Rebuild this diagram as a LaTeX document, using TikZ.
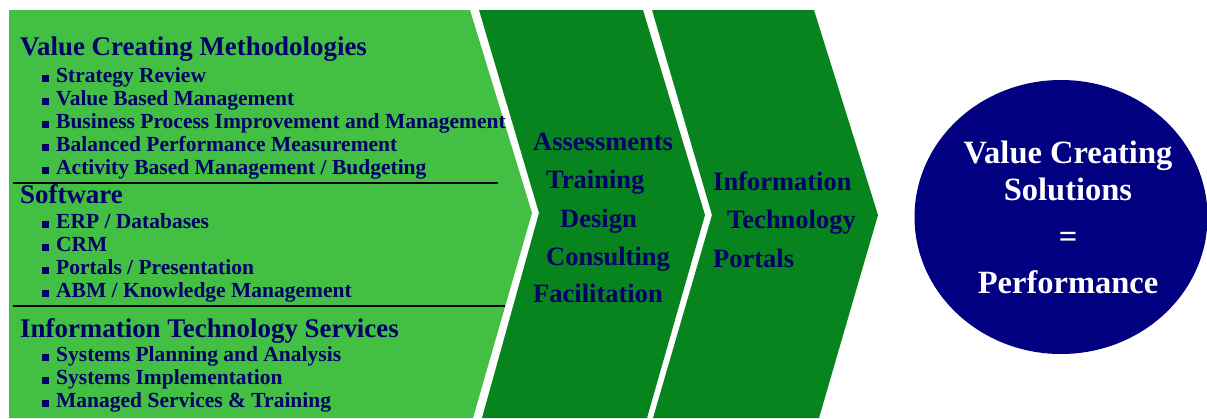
\documentclass[tikz,border=0pt]{standalone}
\usepackage{fontspec}
\setmainfont{Liberation Serif}
\usetikzlibrary{shapes,positioning}
\definecolor{lightgrn}{RGB}{67,191,67}
\definecolor{darkgrn}{RGB}{8,132,30}
\definecolor{navytxt}{RGB}{0,0,105}
\definecolor{navyfill}{RGB}{0,0,128}

\begin{document}
\begin{tikzpicture}[x=1pt,y=-1pt]
  \tikzstyle{head} = [anchor=base west,inner sep=0pt,text=navytxt,font=\fontsize{26.9}{30}\selectfont\bfseries]
  \tikzstyle{item} = [anchor=base west,inner sep=0pt,text=navytxt,font=\fontsize{21.5}{24}\selectfont\bfseries]
  \tikzstyle{chev} = [anchor=base west,inner sep=0pt,text=navytxt,font=\fontsize{26.5}{30}\selectfont\bfseries]
  \tikzstyle{goal} = [anchor=base,inner sep=0pt,text=white,font=\fontsize{32.5}{34}\selectfont\bfseries]
  \tikzstyle{sep} = [line width=2.5pt,black]
  \useasboundingbox (0,0) rectangle (1207,418);
  % arrow shapes
  \fill[lightgrn] (9,10) -- (470,10) -- (532,213) -- (473,418) -- (9,418) -- cycle;
  \fill[darkgrn] (479,10) -- (643,10) -- (705,215) -- (647,418) -- (482,418) -- (539,213) -- cycle;
  \fill[darkgrn] (652,10) -- (814,10) -- (878,215) -- (819,418) -- (653,418) -- (712,215) -- cycle;
  % services list
  \node (meth) [head] at (20,55) {Value Creating Methodologies};
  \foreach \txt [count=\i] in {Strategy Review,Value Based Management,
    Business Process Improvement and Management,Balanced Performance Measurement,
    Activity Based Management / Budgeting}
    \node (meth\i) [item] at (42,{59+23*\i}) {\rule{7pt}{7pt}\hspace{7pt}\txt};
  \coordinate (sepa) at (13,183);
  \coordinate (sepb) at (498,183);
  \draw [sep] (sepa) -- (sepb);
  \node (soft) [head] at (20,203) {Software};
  \foreach \txt [count=\i] in {ERP / Databases,CRM,Portals / Presentation,
    ABM / Knowledge Management}
    \node (soft\i) [item] at (42,{205+23*\i}) {\rule{7pt}{7pt}\hspace{7pt}\txt};
  \coordinate (sepc) at (13,306);
  \coordinate (sepd) at (505,306);
  \draw [sep] (sepc) -- (sepd);
  \node (its) [head] at (20,337) {Information Technology Services};
  \foreach \txt [count=\i] in {Systems Planning and Analysis,Systems Implementation,
    Managed Services \& Training}
    \node (its\i) [item] at (42,{338+23*\i}) {\rule{7pt}{7pt}\hspace{7pt}\txt};
  % delivery
  \node (assess) [chev] at (533,150) {Assessments};
  \node (train)  [chev] at (546,188) {Training};
  \node (design) [chev] at (560,227) {Design};
  \node (consul) [chev] at (546,265) {Consulting};
  \node (facil)  [chev] at (533,302) {Facilitation};
  \node (info) [chev] at (713,190) {Information};
  \node (tech) [chev] at (727,228) {Technology};
  \node (port) [chev] at (713,267) {Portals};
  % result
  \node (sol) [ellipse,fill=navyfill,inner sep=0pt,minimum width=293pt,minimum height=274pt] at (1061,217) {};
  \node (vc)   [goal] at (1068,163) {Value Creating};
  \node (solu) [goal] at (1068,200) {Solutions};
  \node (eq)   [goal] at (1068,247) {=};
  \node (perf) [goal] at (1068,293) {Performance};
\end{tikzpicture}
\end{document}
